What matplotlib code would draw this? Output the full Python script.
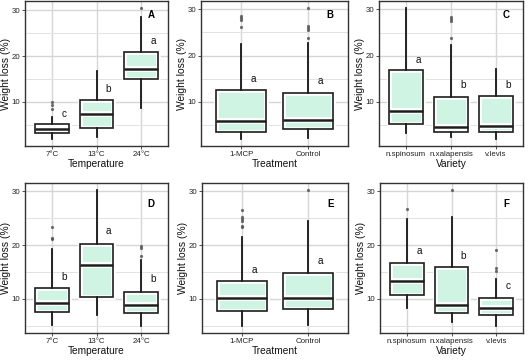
import matplotlib
matplotlib.use('Agg')
import matplotlib.pyplot as plt
from matplotlib import rcParams
from matplotlib.ticker import MultipleLocator

rcParams['font.family'] = ['Liberation Sans Narrow', 'Liberation Sans', 'DejaVu Sans']
rcParams['font.size'] = 6

temp_labels = ['7°C', '13°C', '24°C']
treat_labels = ['1-MCP', 'Control']
variety_labels = ['n.spinosum', 'n.xalapensis', 'v.levis']

# A: temperature (top row)
A_lo = [1.8, 2.3, 8.6]
A_q1 = [3.3, 4.4, 14.9]
A_med = [4.1, 7.3, 17.2]
A_q3 = [5.1, 10.4, 20.8]
A_hi = [6.8, 16.8, 28.5]
A_out = [[8.5, 9.3, 9.9], [], [30.6]]
A_sig = ['c', 'b', 'a']
A_sig_y = [7.3, 12.8, 23.4]

# B: treatment (top row)
B_lo = [1.8, 2.2]
B_q1 = [3.5, 4.1]
B_med = [5.7, 6.1]
B_q3 = [12.6, 11.9]
B_hi = [22.5, 22.8]
B_out = [[26.1, 27.6, 28.1, 28.6], [23.8, 25.5, 26.0, 26.4, 30.4]]
B_sig = ['a', 'a']
B_sig_y = [14.9, 14.5]

# C: variety (top row)
C_lo = [3.2, 2.5, 1.9]
C_q1 = [5.3, 3.4, 3.5]
C_med = [8.1, 4.5, 4.8]
C_q3 = [16.8, 11.0, 11.2]
C_hi = [30.4, 22.4, 17.1]
C_out = [[], [23.8, 27.4, 27.9, 28.4], []]
C_sig = ['a', 'b', 'b']
C_sig_y = [19.1, 13.6, 13.6]

# D: temperature (bottom row)
D_lo = [5.2, 6.9, 4.9]
D_q1 = [7.5, 10.4, 7.4]
D_med = [9.25, 16.25, 8.9]
D_q3 = [12.1, 20.3, 11.3]
D_hi = [19.25, 30.3, 17.2]
D_out = [[21.1, 21.4, 23.4], [], [17.9, 19.5, 19.9]]
D_sig = ['b', 'a', 'b']
D_sig_y = [14.1, 22.7, 13.6]

# E: treatment (bottom row)
E_lo = [4.9, 5.2]
E_q1 = [7.8, 8.06]
E_med = [10.2, 10.06]
E_q3 = [13.25, 14.8]
E_hi = [21.6, 24.4]
E_out = [[23.4, 23.5, 24.4, 24.8, 25.3, 26.6], [30.3]]
E_sig = ['a', 'a']
E_sig_y = [15.4, 17.1]

# F: variety (bottom row)
F_lo = [8.25, 5.75, 4.9]
F_q1 = [10.75, 7.3, 7.0]
F_med = [13.4, 8.9, 8.25]
F_q3 = [16.6, 15.9, 10.1]
F_hi = [24.9, 25.2, 13.6]
F_out = [[26.7], [30.3], [15.2, 15.7, 19.1]]
F_sig = ['a', 'b', 'c']
F_sig_y = [18.9, 17.9, 12.4]

W, H = 529, 361
mint = '#d0f4e4'
dark = '#1e1e1e'


def px_rect(l, t, r, b):
    return [l / W, 1 - b / H, (r - l) / W, (b - t) / H]


def draw_panel(fig, rect, labels, lo, q1, med, q3, hi, out, sig, sig_y,
               xlabel, tag, tag_y):
    ax = fig.add_axes(rect)
    stats = []
    for i in range(len(labels)):
        stats.append(dict(med=med[i], q1=q1[i], q3=q3[i], whislo=lo[i],
                          whishi=hi[i], fliers=out[i], label=labels[i]))
    pos = list(range(1, len(labels) + 1))

    # under layer: mint fill with a white inner band
    ax.bxp(stats, positions=pos, widths=0.75, patch_artist=True,
           showfliers=False, showcaps=False,
           boxprops=dict(facecolor=mint, edgecolor='white', linewidth=3.4),
           medianprops=dict(color='white', linewidth=4.2),
           whiskerprops=dict(color=dark, linewidth=1.1),
           zorder=2)
    # top layer: outlines, whiskers and outliers
    ax.bxp(stats, positions=pos, widths=0.75, patch_artist=True,
           showcaps=False,
           boxprops=dict(facecolor='none', edgecolor=dark, linewidth=1.2),
           medianprops=dict(color=dark, linewidth=1.8),
           whiskerprops=dict(color=dark, linewidth=1.1),
           flierprops=dict(marker='o', markersize=2.3, markerfacecolor='#555555',
                           markeredgecolor='none', alpha=0.85),
           zorder=3)

    vals = lo + hi + [v for o in out for v in o]
    ymin, ymax = min(vals), max(vals)
    pad = (ymax - ymin) * 0.05
    ax.set_ylim(ymin - pad, ymax + pad)
    ax.set_xlim(0.4, len(labels) + 0.6)

    ax.yaxis.set_major_locator(MultipleLocator(10))
    ax.yaxis.set_minor_locator(MultipleLocator(5))
    ax.grid(which='major', color='#d6d6d6', linewidth=1.0, zorder=0)
    ax.grid(which='minor', axis='y', color='#e2e2e2', linewidth=0.7, zorder=0)
    ax.set_axisbelow(True)

    ax.set_xticks(pos)
    ax.set_xticklabels(labels)
    ax.tick_params(which='major', length=2, width=0.6, color='#333333',
                   labelsize=5.7, labelcolor='#222222', pad=1.5)
    ax.tick_params(which='minor', length=0)
    for s in ax.spines.values():
        s.set_color('#333333')
        s.set_linewidth(1.0)

    ax.set_xlabel(xlabel, fontsize=7.3, labelpad=1, color='#111111')
    ax.set_ylabel('Weight loss (%)', fontsize=7.4, labelpad=0.5, color='#111111')

    for i in range(len(labels)):
        ax.annotate(sig[i], xy=(pos[i], sig_y[i]), xytext=(8.7, 0),
                    textcoords='offset points', ha='center', va='center',
                    fontsize=7.2, color='#111111')
    ax.text(0.88, tag_y, tag, transform=ax.transAxes, ha='center',
            va='center', fontsize=7, fontweight='bold')
    return ax


fig = plt.figure(figsize=(W / 100, H / 100), dpi=100)

draw_panel(fig, px_rect(25, 1, 168, 146), temp_labels, A_lo, A_q1, A_med,
           A_q3, A_hi, A_out, A_sig, A_sig_y, 'Temperature', 'A', 0.9)
draw_panel(fig, px_rect(201, 1, 348, 146), treat_labels, B_lo, B_q1, B_med,
           B_q3, B_hi, B_out, B_sig, B_sig_y, 'Treatment', 'B', 0.9)
draw_panel(fig, px_rect(379, 1, 523, 146), variety_labels, C_lo, C_q1, C_med,
           C_q3, C_hi, C_out, C_sig, C_sig_y, 'Variety', 'C', 0.9)
draw_panel(fig, px_rect(25, 183, 168, 333), temp_labels, D_lo, D_q1, D_med,
           D_q3, D_hi, D_out, D_sig, D_sig_y, 'Temperature', 'D', 0.86)
draw_panel(fig, px_rect(202, 183, 348, 333), treat_labels, E_lo, E_q1, E_med,
           E_q3, E_hi, E_out, E_sig, E_sig_y, 'Treatment', 'E', 0.86)
draw_panel(fig, px_rect(380, 183, 523, 333), variety_labels, F_lo, F_q1, F_med,
           F_q3, F_hi, F_out, F_sig, F_sig_y, 'Variety', 'F', 0.86)

plt.savefig('out.png', dpi=100)
